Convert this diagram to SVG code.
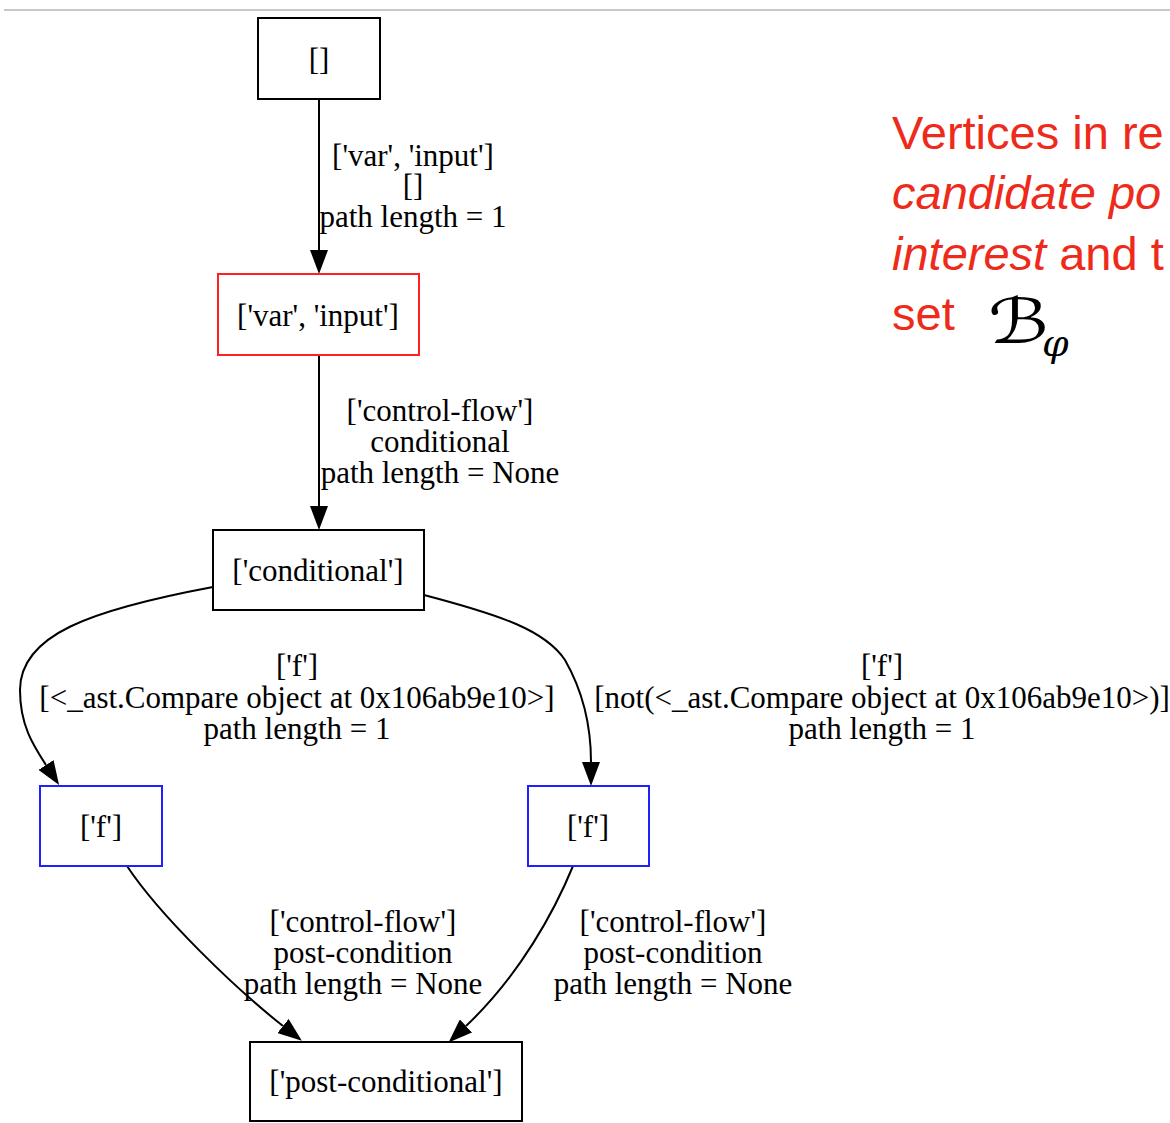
<svg xmlns="http://www.w3.org/2000/svg" width="1170" height="1123" viewBox="0 0 1170 1123">
  <style>
    .node rect { fill: #ffffff; stroke-width: 2; }
    .plain rect { stroke: #000000; }
    .red rect { stroke: #ff2020; }
    .blue rect { stroke: #2020ff; }
    text { font-family: "Liberation Serif", "Times New Roman", serif; font-size: 31px; fill: #000000; }
    .mid { text-anchor: middle; }
    .edge { fill: none; stroke: #000000; stroke-width: 2; }
    .note { font-family: "Liberation Sans", Arial, sans-serif; font-size: 47px; fill: #ee2a1b; }
    .math { font-family: "DejaVu Serif", "DejaVu Sans", serif; font-style: italic; fill: #000000; }
    .math-b { font-size: 62px; }
    .math-sub { font-size: 38px; }
  </style>
  <defs>
    <marker id="arrow" viewBox="0 -9 24 18" refX="0" refY="0" markerWidth="24" markerHeight="18" markerUnits="userSpaceOnUse" orient="auto">
      <path d="M0,-9 L24,0 L0,9 Z" fill="#000000"/>
    </marker>
  </defs>

  <rect width="1170" height="1123" fill="#ffffff"/>
  <line x1="4" y1="10" x2="1170" y2="10" stroke="#c8c8c8" stroke-width="2"/>

  <!-- connectors -->
  <g id="edges">
    <path class="edge" d="M319,99 L319,250" marker-end="url(#arrow)"/>
    <path class="edge" d="M319,355 L319,506" marker-end="url(#arrow)"/>
    <path class="edge" d="M213,587 C90,610 20,635 20,690 C20,725 33,745 46,765" marker-end="url(#arrow)"/>
    <path class="edge" d="M424,595 C500,615 545,630 565,660 C585,695 591,730 591,762" marker-end="url(#arrow)"/>
    <path class="edge" d="M127,866 C160,916 236,989 283,1026" marker-end="url(#arrow)"/>
    <path class="edge" d="M573,866 C555,910 520,975 466,1026" marker-end="url(#arrow)"/>

    <g id="edge-labels" class="mid">
      <text x="413" y="166">['var', 'input']<tspan x="413" dy="30">[]</tspan><tspan x="413" dy="31">path length = 1</tspan></text>
      <text x="440" y="421">['control-flow']<tspan x="440" dy="31">conditional</tspan><tspan x="440" dy="31">path length = None</tspan></text>
      <text x="297" y="676">['f']<tspan x="297" dy="32">[&lt;_ast.Compare object at 0x106ab9e10&gt;]</tspan><tspan x="297" dy="31">path length = 1</tspan></text>
      <text x="882" y="676">['f']<tspan x="882" dy="32">[not(&lt;_ast.Compare object at 0x106ab9e10&gt;)]</tspan><tspan x="882" dy="31">path length = 1</tspan></text>
      <text x="363" y="932">['control-flow']<tspan x="363" dy="31">post-condition</tspan><tspan x="363" dy="31">path length = None</tspan></text>
      <text x="673" y="932">['control-flow']<tspan x="673" dy="31">post-condition</tspan><tspan x="673" dy="31">path length = None</tspan></text>
    </g>
  </g>

  <!-- nodes -->
  <g id="n-root" class="node plain">
    <rect x="258" y="18" width="122" height="81"/>
    <text class="mid" x="319" y="70">[]</text>
  </g>
  <g id="n-var-input" class="node red">
    <rect x="218" y="274" width="201" height="81"/>
    <text class="mid" x="318" y="326">['var', 'input']</text>
  </g>
  <g id="n-conditional" class="node plain">
    <rect x="213" y="530" width="211" height="80"/>
    <text class="mid" x="318" y="581">['conditional']</text>
  </g>
  <g id="n-f-left" class="node blue">
    <rect x="40" y="786" width="122" height="80"/>
    <text class="mid" x="101" y="837">['f']</text>
  </g>
  <g id="n-f-right" class="node blue">
    <rect x="528" y="786" width="121" height="80"/>
    <text class="mid" x="588" y="837">['f']</text>
  </g>
  <g id="n-post-conditional" class="node plain">
    <rect x="250" y="1042" width="272" height="79"/>
    <text class="mid" x="386" y="1092">['post-conditional']</text>
  </g>

  <!-- annotation -->
  <g id="annotation">
    <text class="note" x="892" y="149">Vertices in re</text>
    <text class="note" x="892" y="209" font-style="italic">candidate po</text>
    <text class="note" x="892" y="270"><tspan font-style="italic">interest</tspan> and t</text>
    <text class="note" x="892" y="330">set</text>
    <text class="math math-b" transform="translate(988,343) scale(1.25,1)">ℬ</text>
    <text class="math math-sub" x="1042" y="356">φ</text>
  </g>
</svg>
